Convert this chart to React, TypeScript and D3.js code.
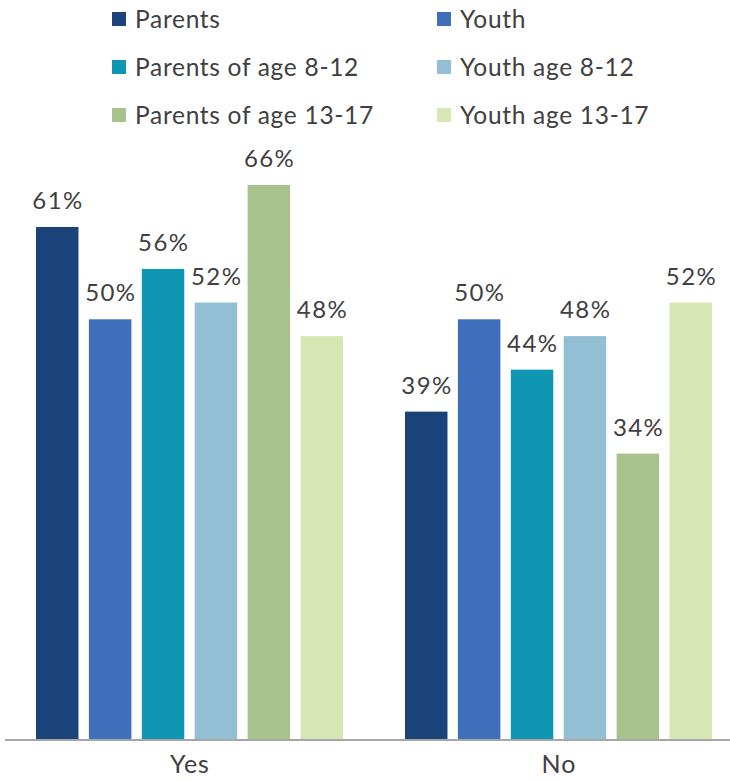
import React from "react";
import * as d3 from "d3";

const categories = ["Yes", "No"];
const seriesNames = [
  "Parents",
  "Youth",
  "Parents of age 8-12",
  "Youth age 8-12",
  "Parents of age 13-17",
  "Youth age 13-17",
];
const yesValues = [61, 50, 56, 52, 66, 48];
const noValues = [39, 50, 44, 48, 34, 52];
const colors = ["#1a4379", "#3f6fba", "#0e96b2", "#93bfd4", "#a7c28a", "#d7e7b4"];

const W = 730;
const H = 780;
const FONT = "Lato, 'Open Sans', sans-serif";
const TEXT = "#404040";

export default function App() {
  const valuesByCat: Record<string, number[]> = { Yes: yesValues, No: noValues };
  const x0 = d3
    .scaleBand<string>()
    .domain(categories)
    .range([5, 743])
    .paddingInner(0.168)
    .paddingOuter(0.084);
  const x1 = d3
    .scaleBand<string>()
    .domain(seriesNames)
    .range([0, x0.bandwidth()])
    .paddingInner(0.197)
    .paddingOuter(0);
  const y = d3.scaleLinear().domain([0, 66]).range([739, 185]);

  const legendX = [112, 437];
  const legendY = [19, 67, 115];

  return (
    <svg
      width={W}
      height={H}
      style={{ position: "absolute", left: 0, top: 0, background: "#fff" }}
      fontFamily={FONT}
    >
      <rect width={W} height={H} fill="#fff" />
      {/* legend */}
      {seriesNames.map((s, i) => {
        const lx = legendX[i % 2];
        const ly = legendY[Math.floor(i / 2)];
        return (
          <g key={s}>
            <rect x={lx} y={ly - 7} width={14} height={14} fill={colors[i]} />
            <text
              x={lx + 23}
              y={ly}
              dy="0.36em"
              fontSize={24.5}
              letterSpacing={0.7}
              fill={TEXT}
            >
              {s}
            </text>
          </g>
        );
      })}
      {/* bars */}
      {categories.map((c) => (
        <g key={c} transform={`translate(${x0(c)},0)`}>
          {seriesNames.map((s, i) => {
            const v = valuesByCat[c][i];
            const bx = x1(s)!;
            return (
              <g key={s}>
                <rect
                  x={bx}
                  y={y(v)}
                  width={x1.bandwidth()}
                  height={y(0) - y(v)}
                  fill={colors[i]}
                />
                <text
                  x={bx + x1.bandwidth() / 2 + 0.7}
                  y={y(v) - 18}
                  textAnchor="middle"
                  fontSize={24}
                  letterSpacing={1.4}
                  fill={TEXT}
                >
                  {v}%
                </text>
              </g>
            );
          })}
        </g>
      ))}
      {/* axis */}
      <line x1={5} x2={730} y1={y(0) + 1} y2={y(0) + 1} stroke="#a6a6a6" strokeWidth={2} />
      {categories.map((c) => (
        <text
          key={c}
          x={x0(c)! + x0.bandwidth() / 2 + 0.5}
          y={773}
          textAnchor="middle"
          fontSize={25}
          letterSpacing={1}
          fill={TEXT}
        >
          {c}
        </text>
      ))}
    </svg>
  );
}
